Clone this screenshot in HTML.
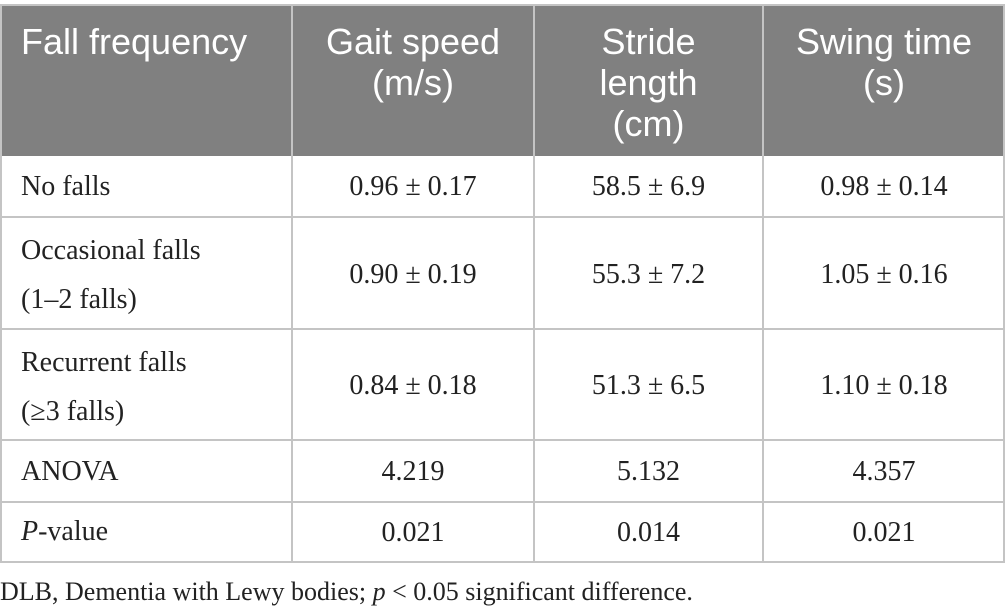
<!DOCTYPE html>
<html><head><meta charset="utf-8"><style>
body{margin:0;width:1005px;height:615px;background:#fff;position:relative;overflow:hidden;font-family:"Liberation Serif",serif;color:#222}
.hdr{position:absolute;left:0;top:4px;width:1005px;height:152px;background:#808080}
.h{position:absolute;color:#fff;font-family:"Liberation Sans",sans-serif;font-size:36px;line-height:41px;text-align:center;top:21px}
.vl{position:absolute;top:4px;width:2px;height:558px;background:#c4c4c4}
.hl{position:absolute;left:0;width:1005px;height:2px;background:#c4c4c4}
.c{position:absolute;font-size:28px;line-height:49px}
.v{position:absolute;font-size:28px;text-align:center;transform:translateY(-50%)}
</style></head><body>
<div class="hdr"></div>
<div class="h" style="left:0;width:292px;text-align:left;padding-left:21px;box-sizing:border-box">Fall frequency</div>
<div class="h" style="left:292px;width:242px">Gait speed<br>(m/s)</div>
<div class="h" style="left:534px;width:229px">Stride<br>length<br>(cm)</div>
<div class="h" style="left:763px;width:242px">Swing time<br>(s)</div>

<div class="vl" style="left:0"></div>
<div class="vl" style="left:291px"></div>
<div class="vl" style="left:533px"></div>
<div class="vl" style="left:762px"></div>
<div class="vl" style="left:1003px"></div>
<div class="hl" style="top:4px"></div>
<div class="hl" style="top:216px"></div>
<div class="hl" style="top:328px"></div>
<div class="hl" style="top:439px"></div>
<div class="hl" style="top:501px"></div>
<div class="hl" style="top:561px"></div>

<div class="c" style="left:21px;top:162px">No falls</div>
<div class="c" style="left:21px;top:226px">Occasional falls<br>(1–2 falls)</div>
<div class="c" style="left:21px;top:338px">Recurrent falls<br>(≥3 falls)</div>
<div class="c" style="left:21px;top:447px">ANOVA</div>
<div class="c" style="left:21px;top:507px"><i>P</i>-value</div>

<div class="v" style="left:292px;width:242px;top:187px">0.96 ± 0.17</div>
<div class="v" style="left:534px;width:229px;top:187px">58.5 ± 6.9</div>
<div class="v" style="left:763px;width:242px;top:187px">0.98 ± 0.14</div>
<div class="v" style="left:292px;width:242px;top:275px">0.90 ± 0.19</div>
<div class="v" style="left:534px;width:229px;top:275px">55.3 ± 7.2</div>
<div class="v" style="left:763px;width:242px;top:275px">1.05 ± 0.16</div>
<div class="v" style="left:292px;width:242px;top:386px">0.84 ± 0.18</div>
<div class="v" style="left:534px;width:229px;top:386px">51.3 ± 6.5</div>
<div class="v" style="left:763px;width:242px;top:386px">1.10 ± 0.18</div>
<div class="v" style="left:292px;width:242px;top:472px">4.219</div>
<div class="v" style="left:534px;width:229px;top:472px">5.132</div>
<div class="v" style="left:763px;width:242px;top:472px">4.357</div>
<div class="v" style="left:292px;width:242px;top:533px">0.021</div>
<div class="v" style="left:534px;width:229px;top:533px">0.014</div>
<div class="v" style="left:763px;width:242px;top:533px">0.021</div>

<div class="c" style="left:0;top:572px;line-height:40px;font-size:26px">DLB, Dementia with Lewy bodies; <i>p</i> &lt; 0.05 significant difference.</div>
</body></html>
